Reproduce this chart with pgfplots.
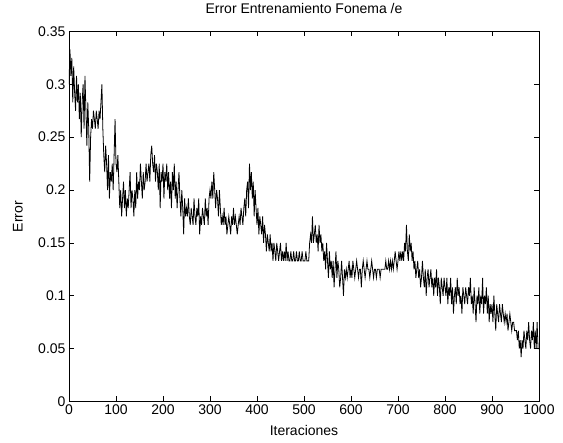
\documentclass[border=0pt]{standalone}
\usepackage{pgfplots}
\pgfplotsset{compat=1.18}
\usepackage{fontspec}
\setmainfont{Liberation Sans}

\begin{document}
\begin{tikzpicture}
\begin{axis}[
    scale only axis,
    width=470bp, height=370bp,
    xmin=0, xmax=1000,
    ymin=0, ymax=0.35,
    xtick={0,100,...,1000},
    ytick={0,0.05,0.1,0.15,0.2,0.25,0.3,0.35},
    xticklabel style={/pgf/number format/set thousands separator={}},
    yticklabel style={/pgf/number format/fixed, /pgf/number format/precision=2},
    /pgf/number format/assume math mode=true,
    tick align=inside,
    major tick length=5bp,
    tick style={black, line width=0.6bp},
    axis line style={black, line width=0.6bp},
    ticklabel style={font=\fontsize{14bp}{16bp}\selectfont},
    label style={font=\fontsize{14bp}{16bp}\selectfont},
    title style={font=\fontsize{14bp}{16bp}\selectfont, at={(axis description cs:0.5,1.046)}, anchor=center},
    xlabel={Iteraciones},
    ylabel={Error},
    xlabel style={at={(axis description cs:0.5,-0.078)}, anchor=center},
    ylabel style={at={(axis description cs:-0.1085,0.5)}, anchor=center},
    title={Error Entrenamiento Fonema /e},
]
\addplot[black, line width=0.8bp] coordinates {
(0,0.300) (2,0.333) (4,0.308) (6,0.325) (8,0.283)
(10,0.317) (12,0.292) (14,0.275) (16,0.308) (18,0.283)
(20,0.300) (22,0.267) (24,0.292) (26,0.250) (28,0.283)
(30,0.300) (32,0.258) (34,0.308) (36,0.275) (38,0.242)
(40,0.283) (42,0.258) (44,0.208) (46,0.250) (48,0.267)
(50,0.258) (52,0.275) (54,0.267) (56,0.258) (58,0.275)
(60,0.267) (62,0.258) (64,0.275) (66,0.267) (68,0.283)
(70,0.300) (72,0.258) (74,0.233) (76,0.217) (78,0.242)
(80,0.225) (82,0.200) (84,0.233) (86,0.192) (88,0.217)
(90,0.208) (92,0.225) (94,0.200) (96,0.233) (98,0.267)
(100,0.225) (102,0.217) (104,0.233) (106,0.208) (108,0.183)
(110,0.200) (112,0.175) (114,0.192) (116,0.208) (118,0.183)
(120,0.200) (122,0.175) (124,0.192) (126,0.183) (128,0.200)
(130,0.217) (132,0.183) (134,0.200) (136,0.192) (138,0.175)
(140,0.200) (142,0.183) (144,0.217) (146,0.192) (148,0.208)
(150,0.200) (152,0.225) (154,0.208) (156,0.192) (158,0.217)
(160,0.200) (162,0.208) (164,0.225) (166,0.208) (168,0.217)
(170,0.225) (172,0.208) (174,0.233) (176,0.242) (178,0.225)
(180,0.217) (182,0.233) (184,0.208) (186,0.225) (188,0.217)
(190,0.200) (192,0.225) (194,0.183) (196,0.217) (198,0.208)
(200,0.225) (202,0.192) (204,0.217) (206,0.208) (208,0.225)
(210,0.200) (212,0.217) (214,0.192) (216,0.208) (218,0.183)
(220,0.217) (222,0.200) (224,0.225) (226,0.192) (228,0.208)
(230,0.183) (232,0.200) (234,0.217) (236,0.192) (238,0.175)
(240,0.200) (242,0.183) (244,0.158) (246,0.192) (248,0.175)
(250,0.183) (252,0.175) (254,0.192) (256,0.175) (258,0.167)
(260,0.183) (262,0.175) (264,0.167) (266,0.192) (268,0.175)
(270,0.167) (272,0.183) (274,0.175) (276,0.192) (278,0.158)
(280,0.175) (282,0.167) (284,0.183) (286,0.175) (288,0.167)
(290,0.192) (292,0.175) (294,0.183) (296,0.167) (298,0.192)
(300,0.200) (302,0.192) (304,0.208) (306,0.192) (308,0.217)
(310,0.200) (312,0.183) (314,0.200) (316,0.192) (318,0.175)
(320,0.200) (322,0.183) (324,0.167) (326,0.175) (328,0.167)
(330,0.183) (332,0.167) (334,0.175) (336,0.158) (338,0.167)
(340,0.175) (342,0.167) (344,0.158) (346,0.175) (348,0.167)
(350,0.183) (352,0.167) (354,0.175) (356,0.167) (358,0.158)
(360,0.167) (362,0.175) (364,0.167) (366,0.183) (368,0.175)
(370,0.167) (372,0.183) (374,0.192) (376,0.175) (378,0.200)
(380,0.208) (382,0.183) (384,0.225) (386,0.200) (388,0.217)
(390,0.192) (392,0.208) (394,0.175) (396,0.200) (398,0.183)
(400,0.167) (402,0.183) (404,0.158) (406,0.175) (408,0.167)
(410,0.158) (412,0.175) (414,0.150) (416,0.167) (418,0.158)
(420,0.142) (422,0.158) (424,0.150) (426,0.142) (428,0.158)
(430,0.142) (432,0.150) (434,0.133) (436,0.150) (438,0.142)
(440,0.133) (442,0.150) (444,0.142) (446,0.133) (448,0.142)
(450,0.150) (452,0.133) (454,0.142) (456,0.133) (458,0.142)
(460,0.133) (462,0.150) (464,0.133) (466,0.142) (468,0.133)
(470,0.133) (472,0.142) (474,0.133) (476,0.133) (478,0.142)
(480,0.133) (482,0.133) (484,0.142) (486,0.133) (488,0.133)
(490,0.142) (492,0.133) (494,0.133) (496,0.142) (498,0.133)
(500,0.133) (502,0.133) (504,0.142) (506,0.133) (508,0.133)
(510,0.133) (512,0.150) (514,0.158) (516,0.150) (518,0.175)
(520,0.150) (522,0.158) (524,0.167) (526,0.150) (528,0.158)
(530,0.142) (532,0.167) (534,0.150) (536,0.158) (538,0.142)
(540,0.150) (542,0.133) (544,0.142) (546,0.125) (548,0.150)
(550,0.133) (552,0.117) (554,0.142) (556,0.125) (558,0.133)
(560,0.117) (562,0.133) (564,0.108) (566,0.125) (568,0.142)
(570,0.117) (572,0.133) (574,0.125) (576,0.108) (578,0.117)
(580,0.133) (582,0.117) (584,0.100) (586,0.125) (588,0.117)
(590,0.125) (592,0.117) (594,0.125) (596,0.133) (598,0.117)
(600,0.125) (602,0.117) (604,0.133) (606,0.125) (608,0.117)
(610,0.125) (612,0.133) (614,0.125) (616,0.117) (618,0.125)
(620,0.125) (622,0.108) (624,0.125) (626,0.133) (628,0.125)
(630,0.117) (632,0.125) (634,0.133) (636,0.125) (638,0.125)
(640,0.117) (642,0.125) (644,0.133) (646,0.125) (648,0.117)
(650,0.125) (652,0.125) (654,0.117) (656,0.125) (658,0.125)
(660,0.125) (662,0.117) (664,0.125) (666,0.125) (668,0.125)
(670,0.125) (672,0.125) (674,0.133) (676,0.125) (678,0.125)
(680,0.133) (682,0.125) (684,0.133) (686,0.125) (688,0.133)
(690,0.125) (692,0.133) (694,0.142) (696,0.133) (698,0.125)
(700,0.133) (702,0.142) (704,0.133) (706,0.142) (708,0.133)
(710,0.142) (712,0.133) (714,0.150) (716,0.142) (718,0.167)
(720,0.142) (722,0.133) (724,0.158) (726,0.142) (728,0.150)
(730,0.133) (732,0.142) (734,0.125) (736,0.133) (738,0.117)
(740,0.125) (742,0.133) (744,0.117) (746,0.125) (748,0.108)
(750,0.117) (752,0.133) (754,0.117) (756,0.108) (758,0.125)
(760,0.100) (762,0.117) (764,0.125) (766,0.108) (768,0.117)
(770,0.125) (772,0.108) (774,0.117) (776,0.100) (778,0.117)
(780,0.108) (782,0.125) (784,0.100) (786,0.117) (788,0.108)
(790,0.092) (792,0.117) (794,0.108) (796,0.100) (798,0.117)
(800,0.108) (802,0.100) (804,0.117) (806,0.092) (808,0.108)
(810,0.100) (812,0.117) (814,0.092) (816,0.108) (818,0.083)
(820,0.100) (822,0.108) (824,0.092) (826,0.117) (828,0.100)
(830,0.108) (832,0.092) (834,0.100) (836,0.083) (838,0.108)
(840,0.100) (842,0.092) (844,0.108) (846,0.100) (848,0.092)
(850,0.108) (852,0.100) (854,0.117) (856,0.092) (858,0.100)
(860,0.083) (862,0.108) (864,0.092) (866,0.075) (868,0.100)
(870,0.092) (872,0.108) (874,0.083) (876,0.100) (878,0.092)
(880,0.117) (882,0.083) (884,0.100) (886,0.092) (888,0.108)
(890,0.083) (892,0.100) (894,0.075) (896,0.092) (898,0.083)
(900,0.092) (902,0.075) (904,0.100) (906,0.083) (908,0.067)
(910,0.092) (912,0.083) (914,0.075) (916,0.092) (918,0.083)
(920,0.075) (922,0.092) (924,0.083) (926,0.075) (928,0.083)
(930,0.075) (932,0.083) (934,0.067) (936,0.075) (938,0.083)
(940,0.075) (942,0.067) (944,0.075) (946,0.075) (948,0.067)
(950,0.067) (952,0.067) (954,0.058) (956,0.067) (958,0.050)
(960,0.058) (962,0.042) (964,0.058) (966,0.050) (968,0.067)
(970,0.058) (972,0.050) (974,0.067) (976,0.058) (978,0.075)
(980,0.058) (982,0.050) (984,0.067) (986,0.058) (988,0.075)
(990,0.050) (992,0.067) (994,0.050) (996,0.075) (998,0.050)
(1000,0.050)
};
\end{axis}
\path ([shift={(-69bp,-41bp)}]current axis.south west) rectangle ([shift={(24bp,27bp)}]current axis.north east);
\end{tikzpicture}
\end{document}
